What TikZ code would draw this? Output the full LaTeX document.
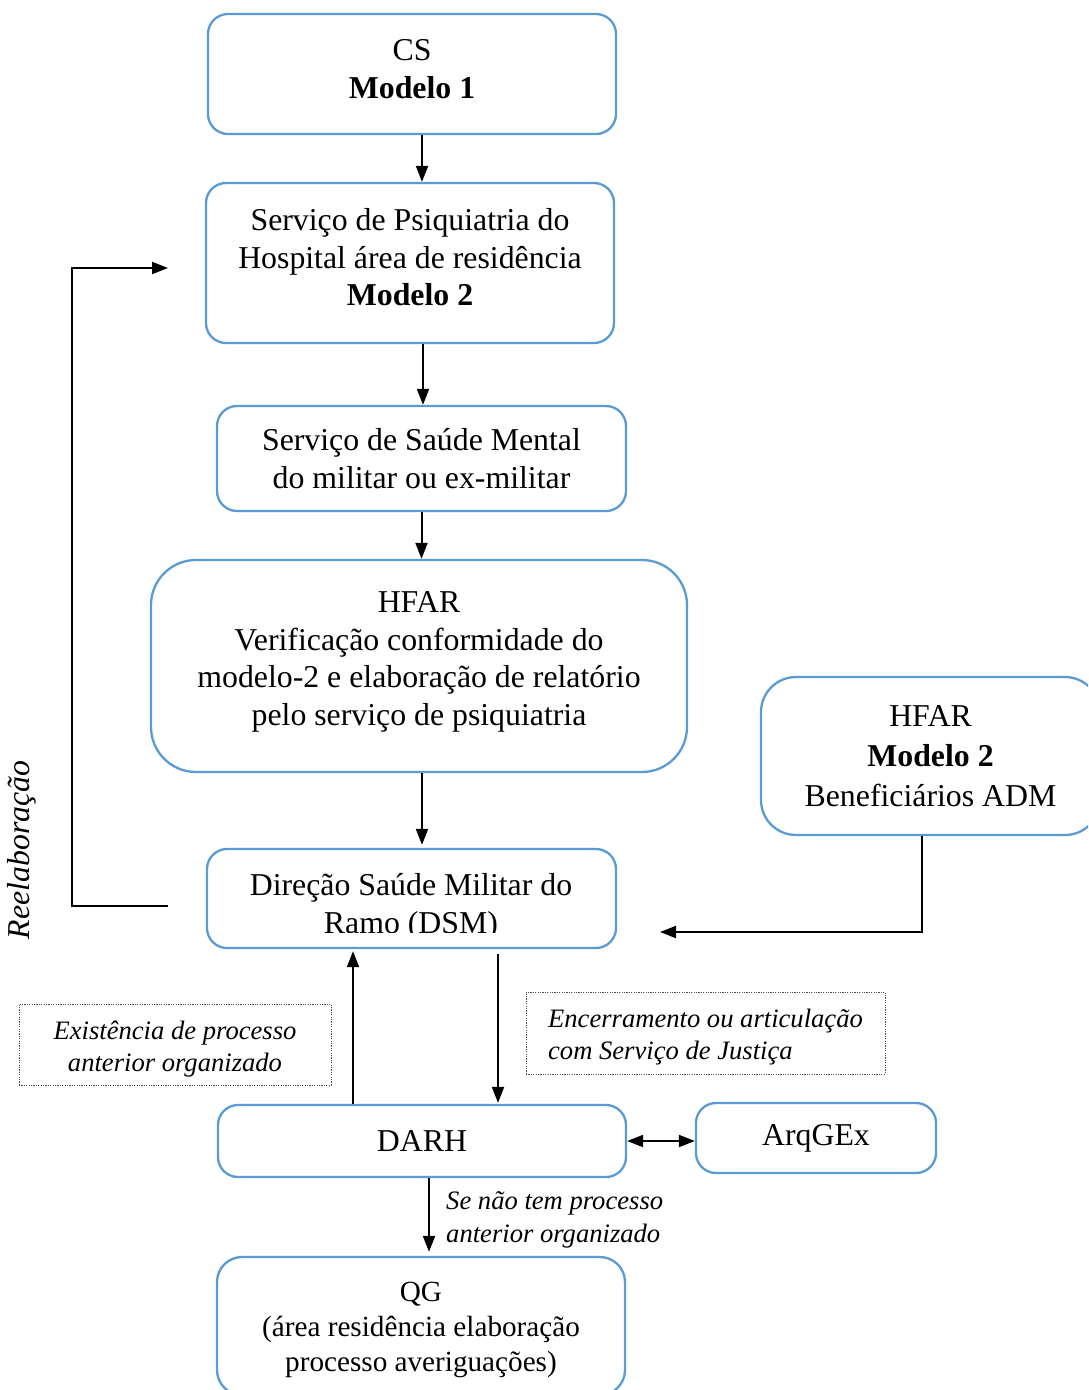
\documentclass[tikz,border=0pt]{standalone}
\usepackage{fontspec}
\setmainfont{Liberation Serif}
\usetikzlibrary{arrows.meta}
\definecolor{boxblue}{RGB}{91,155,213}
% invisible struts to move a line of text
\newcommand{\lowstrut}[1]{\rule[-#1]{0pt}{#1}}
\newcommand{\highstrut}[1]{\rule{0pt}{#1}}
\begin{document}
\begin{tikzpicture}[x=1pt,y=-1pt,
    every node/.style={inner sep=0pt,font=\fontsize{31.8}{37.5}\selectfont},
    box/.style={draw=boxblue,line width=2.3pt,rounded corners=20pt,align=center},
    note/.style={draw=black!70,line width=0.8pt,dash pattern=on 1.2pt off 1.2pt,
      font=\itshape\fontsize{26.6}{32}\selectfont},
    flow/.style={line width=2pt,-{Triangle[length=16pt,width=12pt]}}]
      \clip (0,0) rectangle (1088,1390);
      \draw
        (412,74) node[box,minimum width=408,minimum height=120] (cs){CS\\\textbf{Modelo 1}\lowstrut{10pt}}
        (410,263) node[box,minimum width=408,minimum height=160] (psiq){Serviço de Psiquiatria do\\Hospital área de residência\\\textbf{Modelo 2}\lowstrut{12pt}}
        (421.5,458.5) node[box,minimum width=409,minimum height=105] (ssm){Serviço de Saúde Mental\\do militar ou ex-militar}
        (419,666) node[box,rounded corners=45pt,minimum width=536,minimum height=212] (hfar){HFAR\\Verificação conformidade do\\modelo-2 e elaboração de relatório\\pelo serviço de psiquiatria\lowstrut{15pt}}
        (411.5,898.5) node[box,minimum width=409,minimum height=99] (dsm){}
        (930.5,756) node[box,rounded corners=35pt,minimum width=339,minimum height=158,
          font=\fontsize{31.8}{40}\selectfont] (adm){HFAR\\\textbf{Modelo 2}\\Beneficiários ADM}
        (422,1141) node[box,minimum width=408,minimum height=72] (darh){DARH}
        (816,1138) node[box,minimum width=240,minimum height=70] (arq){ArqGEx}
        (421,1326) node[box,rounded corners=25pt,minimum width=408,minimum height=138,
          font=\fontsize{29.2}{35}\selectfont] (qg){\highstrut{28pt}QG\\(área residência elaboração\\processo averiguações)}
        (175,1044.5) node[note,minimum width=312,minimum height=81,align=center] (exist){\highstrut{28.5pt}Existência de processo\\anterior organizado}
        (705.5,1033) node[note,minimum width=359,minimum height=82,align=left] (encer){\highstrut{26pt}Encerramento ou articulação\\com Serviço de Justiça}
        (446,1220) node[anchor=west,align=left,font=\itshape\fontsize{26.6}{33}\selectfont] (senao){Se não tem processo\\anterior organizado}
        (22,850) node[rotate=90,font=\itshape\fontsize{31.8}{37.5}\selectfont] (reel){Reelaboração};
      % DSM text is cut off by the box
      \begin{scope}
        \clip (207,849) rectangle (616,932);
        \node[align=center] (dsmtext) at (411,907) {Direção Saúde Militar do\\Ramo (DSM)};
      \end{scope}
      \coordinate (loopa) at (168,906);
      \coordinate (loopc) at (72,906);
      \coordinate (loopb) at (168,268);
      \coordinate (admend) at (660,932);
      \begin{scope}[flow]
        \draw ([xshift=10]cs.south) to ([xshift=10]cs.south |- psiq.north);
        \draw ([xshift=13]psiq.south) to ([xshift=13]psiq.south |- ssm.north);
        \draw (ssm.south) to (ssm.south |- hfar.north);
        \draw ([xshift=3]hfar.south) to ([xshift=3,yshift=3]hfar.south |- dsm.north);
        \draw ([xshift=-8.5]adm.south) |- (admend);
        \draw (loopa) -- (loopc) |- (loopb);
        \draw ([xshift=-69]darh.north) to ([xshift=-69,yshift=-2]darh.north |- dsm.south);
        \draw ([xshift=86.5,yshift=-5]dsm.south) to ([xshift=86.5,yshift=1]dsm.south |- darh.north);
        \draw[{Triangle[length=16pt,width=12pt]}-{Triangle[length=16pt,width=12pt]}] (darh.east) to (darh.east -| arq.west);
        \draw ([xshift=7]darh.south) to ([xshift=7,yshift=4]darh.south |- qg.north);
      \end{scope}
    \end{tikzpicture}
\end{document}
